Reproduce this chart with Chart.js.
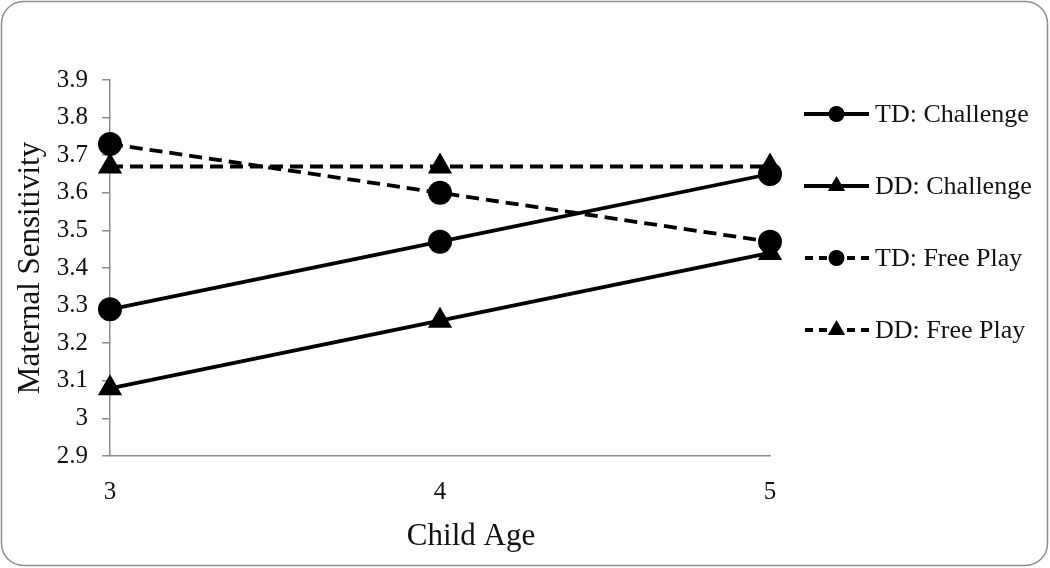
<!DOCTYPE html>
<html>
<head>
<meta charset="utf-8">
<script src="https://cdn.jsdelivr.net/npm/chart.js@4.4.1/dist/chart.umd.min.js"></script>
<style>
  html, body { margin: 0; padding: 0; background: #fff; }
  canvas { display: block; }
</style>
</head>
<body>
<canvas id="chart" width="1050" height="568"></canvas>
<script>
// child age categories
const ages = ['3', '4', '5'];

// maternal sensitivity per group / context
const tdChallenge = [3.29, 3.47, 3.65];
const ddChallenge = [3.08, 3.26, 3.44];
const tdFreePlay = [3.73, 3.60, 3.47];
const ddFreePlay = [3.67, 3.67, 3.67];

const seriesNames = ['TD: Challenge', 'DD: Challenge', 'TD: Free Play', 'DD: Free Play'];

const FONT = '"Liberation Serif", "DejaVu Serif", serif';
const DASH = [13, 7];

function series(label, data, style, dashed) {
  return {
    label: label,
    data: data,
    borderColor: '#000',
    backgroundColor: '#000',
    borderWidth: 3.8,
    borderDash: dashed ? DASH : [],
    pointStyle: style,
    pointRadius: style === 'triangle' ? 14 : 12,
    pointBackgroundColor: '#000',
    pointBorderColor: '#000',
    pointBorderWidth: 0,
    tension: 0,
    fill: false
  };
}

// rounded frame around the picture
const framePlugin = {
  id: 'frame',
  beforeDraw(chart) {
    const ctx = chart.ctx;
    ctx.save();
    ctx.fillStyle = '#fff';
    ctx.fillRect(0, 0, chart.width, chart.height);
    ctx.beginPath();
    ctx.roundRect(1.5, 1.5, chart.width - 4, chart.height - 4, 22);
    ctx.strokeStyle = '#8c8c8c';
    ctx.lineWidth = 1.5;
    ctx.stroke();
    ctx.restore();
  }
};

// legend to the right, line + marker like the original
const legendPlugin = {
  id: 'sideLegend',
  afterDraw(chart) {
    const ctx = chart.ctx;
    ctx.save();
    chart.data.datasets.forEach((ds, i) => {
      const y = 114 + i * 72;
      const x0 = 804, x1 = 869, xm = (x0 + x1) / 2;
      ctx.beginPath();
      ctx.setLineDash(ds.borderDash.length ? [8, 6] : []);
      ctx.lineDashOffset = ds.borderDash.length ? -1 : 0;
      ctx.moveTo(x0, y);
      ctx.lineTo(x1, y);
      ctx.strokeStyle = '#000';
      ctx.lineWidth = 3.8;
      ctx.stroke();
      ctx.setLineDash([]);
      ctx.fillStyle = '#000';
      ctx.beginPath();
      if (ds.pointStyle === 'triangle') {
        const r = 10;
        ctx.moveTo(xm, y - r);
        ctx.lineTo(xm + r * 0.866, y + r * 0.5);
        ctx.lineTo(xm - r * 0.866, y + r * 0.5);
        ctx.closePath();
      } else {
        ctx.arc(xm, y, 8, 0, Math.PI * 2);
      }
      ctx.fill();
      ctx.font = '26px ' + FONT;
      ctx.textBaseline = 'middle';
      ctx.fillStyle = '#111';
      ctx.fillText(ds.label, 875, y + 1);
    });
    ctx.restore();
  }
};

new Chart(document.getElementById('chart'), {
  type: 'line',
  data: {
    labels: ages,
    datasets: [
      series(seriesNames[0], tdChallenge, 'circle', false),
      series(seriesNames[1], ddChallenge, 'triangle', false),
      series(seriesNames[2], tdFreePlay, 'circle', true),
      series(seriesNames[3], ddFreePlay, 'triangle', true)
    ]
  },
  options: {
    responsive: false,
    animation: false,
    layout: { padding: { top: 80, right: 280, left: 0, bottom: 0 } },
    plugins: {
      legend: { display: false },
      tooltip: { enabled: false }
    },
    scales: {
      x: {
        type: 'category',
        offset: false,
        afterFit: (s) => { s.height = 112; },
        grid: { display: true, drawOnChartArea: false, drawTicks: false },
        border: { color: '#8c8c8c', width: 1.5 },
        ticks: { color: '#111', padding: 21, font: { family: FONT, size: 25 } },
        title: {
          display: true,
          text: '\u2002\u2002\u2002\u2002Child Age',
          color: '#111',
          font: { family: FONT, size: 31 },
          padding: { top: 0, bottom: 13 }
        }
      },
      y: {
        min: 2.9,
        max: 3.9,
        afterFit: (s) => { s.width = 110; },
        grid: { display: true, drawOnChartArea: false, tickLength: 8, color: '#8c8c8c', lineWidth: 1.5 },
        border: { color: '#8c8c8c', width: 1.5 },
        ticks: {
          stepSize: 0.1,
          color: '#111',
          padding: 14,
          font: { family: FONT, size: 25 },
          callback: (v) => String(Number(v.toFixed(1)))
        },
        title: {
          display: true,
          text: 'Maternal Sensitivity',
          color: '#111',
          font: { family: FONT, size: 31 },
          padding: { top: 12, bottom: 0 }
        }
      }
    }
  },
  plugins: [framePlugin, legendPlugin]
});
</script>
</body>
</html>
